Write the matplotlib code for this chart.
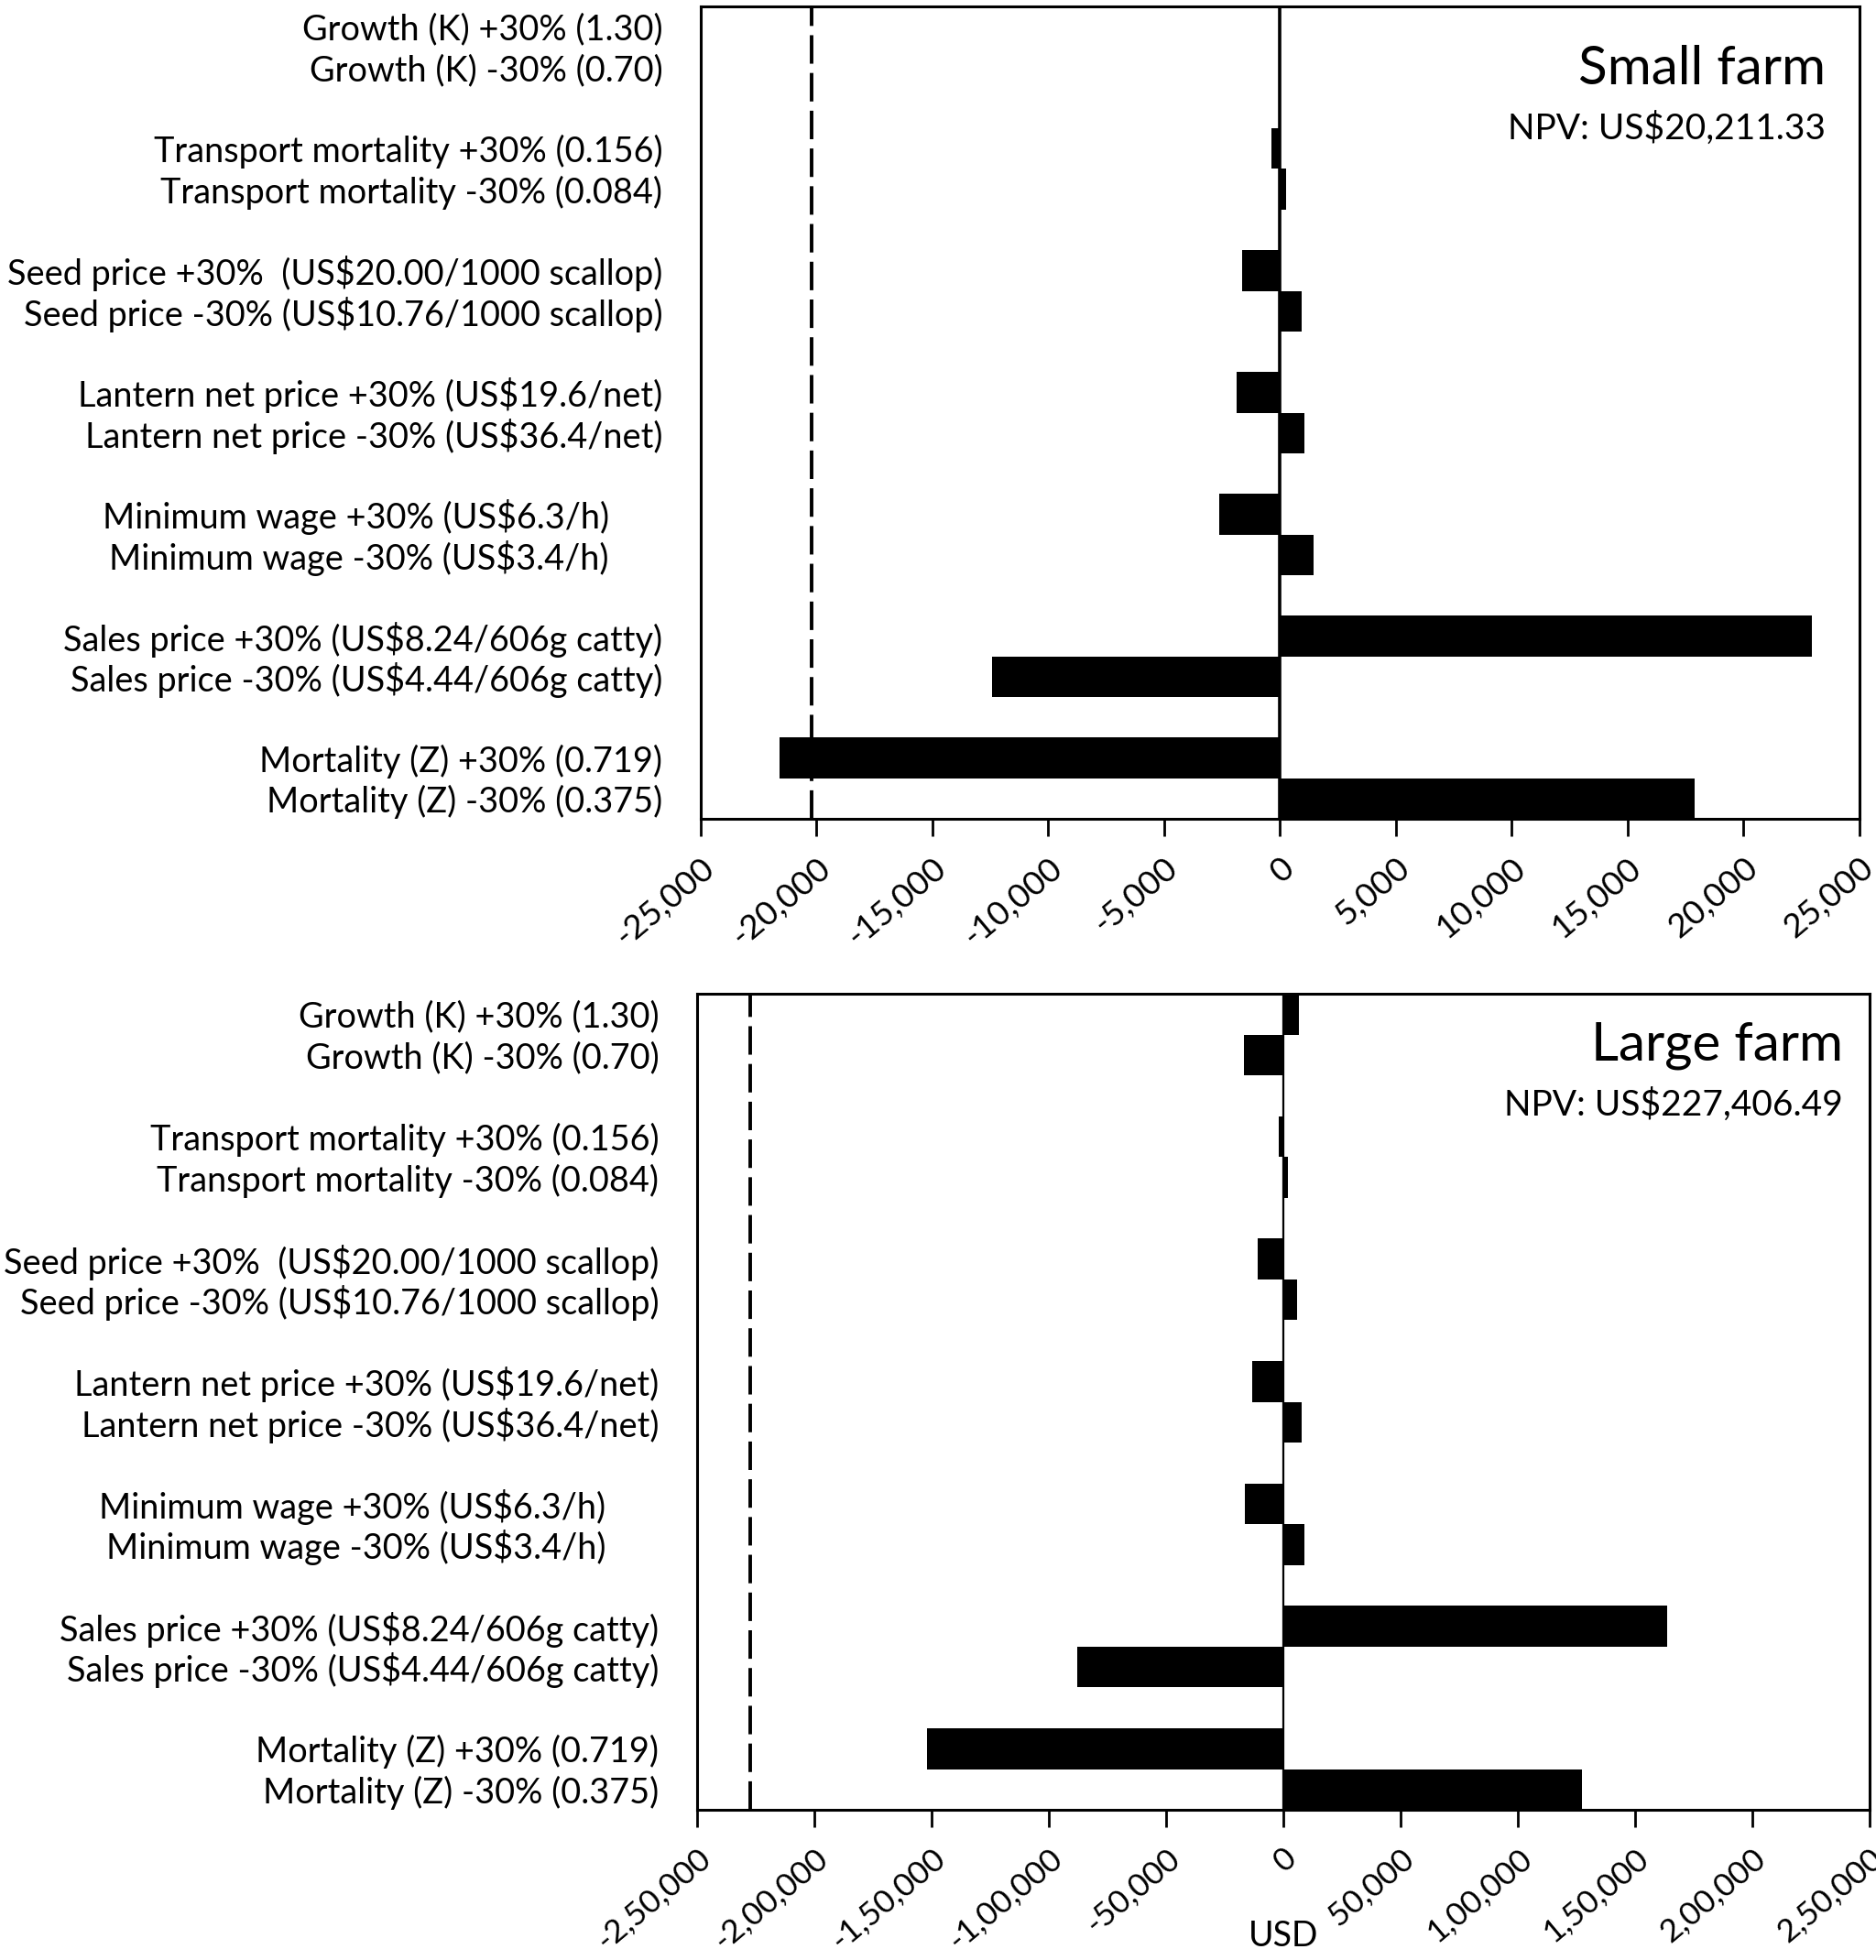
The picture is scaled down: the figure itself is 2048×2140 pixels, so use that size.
import matplotlib
matplotlib.use("Agg")
import matplotlib.pyplot as plt
import numpy as np

plt.rcParams['font.family'] = ['Lato', 'DejaVu Sans']

# row labels, top to bottom
labels = [
    "Growth (K) +30% (1.30)",
    "Growth (K) -30% (0.70)",
    "Transport mortality +30% (0.156)",
    "Transport mortality -30% (0.084)",
    "Seed price +30%  (US$20.00/1000 scallop)",
    "Seed price -30% (US$10.76/1000 scallop)",
    "Lantern net price +30% (US$19.6/net)",
    "Lantern net price -30% (US$36.4/net)",
    "Minimum wage +30% (US$6.3/h)",
    "Minimum wage -30% (US$3.4/h)",
    "Sales price +30% (US$8.24/606g catty)",
    "Sales price -30% (US$4.44/606g catty)",
    "Mortality (Z) +30% (0.719)",
    "Mortality (Z) -30% (0.375)",
]

# change in NPV (USD)
small_vals = [0, 0, -360, 240, -1620, 950, -1860, 1030, -2610, 1460,
              22950, -12430, -21600, 17880]
large_vals = [6600, -16800, -1950, 1950, -10900, 5900, -13300, 7800,
              -16400, 9000, 163700, -87900, -152000, 127300]

small_npv = 20211.33
large_npv = 227406.49

small_ticks = [-25000, -20000, -15000, -10000, -5000, 0, 5000, 10000, 15000, 20000, 25000]
small_ticklabels = ["-25,000", "-20,000", "-15,000", "-10,000", "-5,000", "0",
                    "5,000", "10,000", "15,000", "20,000", "25,000"]
large_ticks = [-250000, -200000, -150000, -100000, -50000, 0, 50000, 100000, 150000, 200000, 250000]
large_ticklabels = ["-2,50,000", "-2,00,000", "-1,50,000", "-1,00,000", "-50,000", "0",
                    "50,000", "1,00,000", "1,50,000", "2,00,000", "2,50,000"]

ypos = [3 * (k // 2) + (k % 2) for k in range(len(labels))]

fig = plt.figure(figsize=(20.48, 21.40), dpi=100)
ax1 = fig.add_axes([0.3735, 0.5822, 0.6177, 0.4145])
ax2 = fig.add_axes([0.3716, 0.0766, 0.6250, 0.4164])


def panel(ax, vals, npv, ticks, ticklabels, title, tx, ty, zlw, tfs):
    ax.barh(ypos, vals, height=1.0, color='black')
    ax.axvline(0, color='black', lw=zlw)
    ax.axvline(-npv, color='black', lw=2.8, dashes=(8, 2.6))
    ax.set_xlim(ticks[0], ticks[-1])
    ax.set_ylim(19.5, -0.5)
    ax.set_yticks(ypos)
    ax.set_yticklabels(labels, fontsize=27.3)
    ax.tick_params(axis='y', length=0, pad=30)
    # minimum wage labels sit further left
    for k in (8, 9):
        ax.yaxis.get_major_ticks()[k].set_pad(72)
    ax.set_xticks(ticks)
    ax.set_xticklabels(ticklabels, rotation=40, ha='right', rotation_mode='anchor',
                       fontsize=tfs)
    ax.tick_params(axis='x', direction='out', length=14, width=2, pad=12)
    for s in ax.spines.values():
        s.set_linewidth(2.2)
    ax.text(tx, ty, title, transform=ax.transAxes, ha='right', va='center', fontsize=42)
    ax.text(tx, ty - 0.073, "NPV: US$" + f"{npv:,.2f}", transform=ax.transAxes,
            ha='right', va='center', fontsize=28)


panel(ax1, small_vals, small_npv, small_ticks, small_ticklabels, "Small farm", 0.971, 0.923, 2.6, 26.5)
panel(ax2, large_vals, large_npv, large_ticks, large_ticklabels, "Large farm", 0.977, 0.937, 1.6, 25.5)
ax2.text(0, -0.155, "USD", transform=ax2.get_xaxis_transform(), ha='center', va='center',
         fontsize=27)

fig.savefig("out.png", dpi=100)
